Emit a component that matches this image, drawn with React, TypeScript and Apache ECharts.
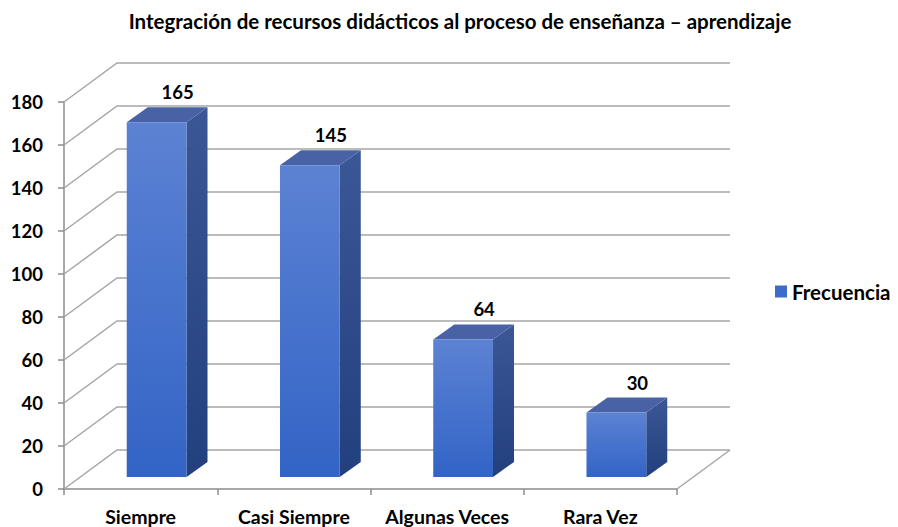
import React, { useEffect, useRef } from "react";
import * as echarts from "echarts";

const chartTitle = "Integración de recursos didácticos al proceso de enseñanza – aprendizaje";
const categories = ["Siempre", "Casi Siempre", "Algunas Veces", "Rara Vez"];
const seriesName = "Frecuencia";
const values = [165, 145, 64, 30];
const yTicks = [0, 20, 40, 60, 80, 100, 120, 140, 160, 180];

const FONT = "Lato";

export default function App() {
  const ref = useRef<HTMLDivElement>(null);
  useEffect(() => {
    if (!ref.current) return;
    const chart = echarts.init(ref.current, null, { renderer: "svg" });
    const DEPTH_X = 53;
    const DEPTH_Y = -39;
    const option: any = {
      animation: false,
      backgroundColor: "#ffffff",
      color: ["#3d6bcc"],
      title: {
        text: chartTitle,
        left: 455,
        top: 5,
        textAlign: "center",
        textStyle: { fontFamily: FONT, fontWeight: "bold", fontSize: 20.5, color: "#000" },
      },
      legend: {
        data: [seriesName],
        left: 770,
        top: 276,
        icon: "rect",
        itemWidth: 12,
        itemHeight: 12,
        itemGap: 6,
        textStyle: { fontFamily: FONT, fontWeight: "bold", fontSize: 20.5, color: "#000" },
      },
      grid: { left: 64, right: 221, top: 102, bottom: 38 },
      xAxis: {
        type: "category",
        data: categories,
        boundaryGap: true,
        axisLine: { show: true, lineStyle: { color: "#8c8c8c", width: 1.5 } },
        axisTick: { show: true, alignWithLabel: false, length: 6, lineStyle: { color: "#8c8c8c", width: 1.5 } },
        axisLabel: { interval: 0, margin: 17, fontFamily: FONT, fontWeight: "bold", fontSize: 19.5, color: "#000" },
        splitLine: { show: false },
      },
      yAxis: {
        type: "value",
        min: 0,
        max: 180,
        interval: 20,
        axisLine: { show: true, lineStyle: { color: "#8c8c8c", width: 1.5 } },
        axisTick: { show: true, length: 6, lineStyle: { color: "#8c8c8c", width: 1.5 } },
        axisLabel: { margin: 21, fontFamily: FONT, fontWeight: "bold", fontSize: 18.5, color: "#000" },
        splitLine: { show: false },
      },
      series: [
        {
          type: "custom",
          name: "walls",
          silent: true,
          z: 1,
          data: yTicks.map((v) => [0, v]),
          renderItem: (params: any, api: any) => {
            const cs = params.coordSys;
            const v = api.value(1);
            const y = api.coord([0, v])[1];
            const x0 = cs.x;
            const x1 = cs.x + cs.width;
            const children: any[] = [
              {
                type: "polyline",
                shape: {
                  points: [
                    [x0, y],
                    [x0 + DEPTH_X, y + DEPTH_Y],
                    [x1 + DEPTH_X, y + DEPTH_Y],
                  ],
                },
                style: { stroke: "#a6a6a6", lineWidth: 1.5, fill: null },
              },
            ];
            if (v === 0) {
              children.push({
                type: "line",
                shape: { x1: x1, y1: y, x2: x1 + DEPTH_X, y2: y + DEPTH_Y },
                style: { stroke: "#a6a6a6", lineWidth: 1.5 },
              });
            }
            return { type: "group", children };
          },
        },
        {
          type: "custom",
          name: seriesName,
          z: 5,
          itemStyle: { color: "#3d6bcc" },
          data: values.map((v, i) => [i, v]),
          renderItem: (params: any, api: any) => {
            const i = api.value(0);
            const v = api.value(1);
            const top = api.coord([i, v]);
            const base = api.coord([i, 0]);
            const band = api.size([1, 0])[0];
            const w = band * 0.39;
            const ox = 16, oy = -12, dx = 21, dy = -15;
            const cx = top[0] + ox;
            const fl = cx - w / 2;
            const fr = cx + w / 2;
            const yb = base[1] + oy;
            const yt = top[1] + oy;
            return {
              type: "group",
              children: [
                {
                  type: "polygon",
                  shape: { points: [[fr, yt], [fr + dx, yt + dy], [fr + dx, yb + dy], [fr, yb]] },
                  style: {
                    fill: new echarts.graphic.LinearGradient(0, 0, 0, 1, [
                      { offset: 0, color: "#3b5796" },
                      { offset: 1, color: "#223f7e" },
                    ]),
                  },
                },
                {
                  type: "polygon",
                  shape: { points: [[fl, yt], [fl + dx, yt + dy], [fr + dx, yt + dy], [fr, yt]] },
                  style: { fill: "#4862a5" },
                },
                {
                  type: "rect",
                  shape: { x: fl, y: yt, width: w, height: yb - yt },
                  style: {
                    fill: new echarts.graphic.LinearGradient(0, 0, 0, 1, [
                      { offset: 0, color: "#5c82d3" },
                      { offset: 1, color: "#3264c6" },
                    ]),
                  },
                },
                {
                  type: "text",
                  style: {
                    text: String(v),
                    x: cx + dx,
                    y: yt + dy - 15,
                    align: "center",
                    verticalAlign: "middle",
                    fontFamily: FONT,
                    fontWeight: "bold",
                    fontSize: 18.5,
                    fill: "#000",
                  },
                },
              ],
            };
          },
        },
      ],
    };
    chart.setOption(option);
    return () => chart.dispose();
  }, []);
  return (
    <div
      ref={ref}
      style={{ position: "fixed", left: 0, top: 0, width: 898, height: 527, background: "#fff" }}
    />
  );
}
